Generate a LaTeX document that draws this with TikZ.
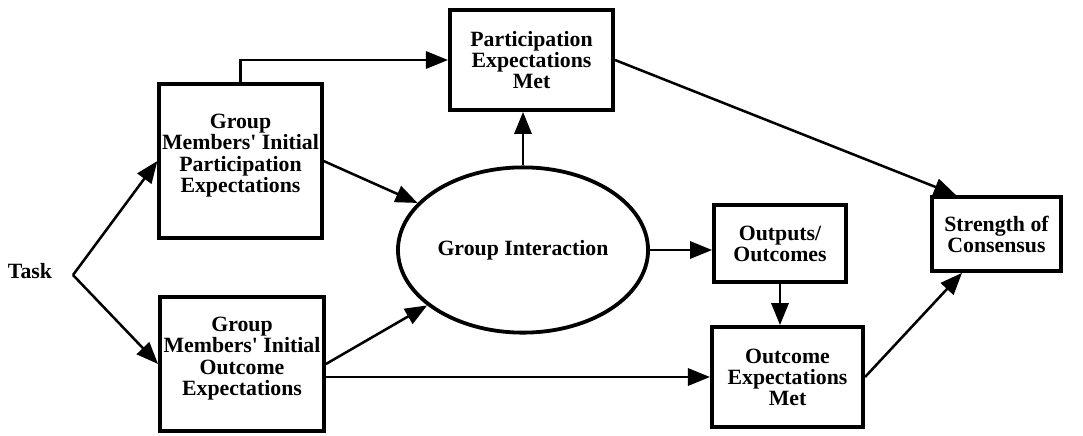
\documentclass[tikz,border=0pt]{standalone}
\usepackage{fontspec}
\setmainfont{Liberation Serif}
\usetikzlibrary{shapes.geometric,arrows.meta,calc}

\begin{document}
\begin{tikzpicture}[x=0.025cm,y=-0.025cm]
    \tikzstyle{box} = [draw, line width=2.7pt, align=center, inner sep=2pt,
        font=\bfseries\fontsize{15.5}{15}\selectfont]
    \tikzstyle{link} = [line width=1.8pt, -{Triangle[length=5.5mm,width=4.3mm]}]

    \useasboundingbox (0,0) rectangle (1083,435);

    % Boxes
    \node[box, minimum width=4.08cm, minimum height=2.5cm] (pem) at (531.5,60)
        {Participation\\Expectations\\Met};
    \node[box, minimum width=4.03cm, minimum height=3.85cm] (gip) at (240.5,161)
        {Group\\Members\textquotesingle{} Initial\\Participation\\Expectations\\[-4pt]\mbox{}};
    \node[box, minimum width=4.1cm, minimum height=3.35cm] (gio) at (242,364)
        {Group\\Members\textquotesingle{} Initial\\Outcome\\Expectations\\[-4pt]\mbox{}};
    \node[box, ellipse, inner sep=0pt, minimum width=6.25cm, minimum height=4.13cm] (gi) at (523,250)
        {Group Interaction};
    \node[box, minimum width=3.3cm, minimum height=1.93cm] (out) at (780,243.5)
        {Outputs/\\Outcomes};
    \node[box, minimum width=3.78cm, minimum height=2.5cm] (oem) at (787.5,377)
        {Outcome\\Expectations\\Met};
    \node[box, minimum width=3.23cm, minimum height=1.85cm] (soc) at (996.5,234)
        {Strength of\\Consensus};

    % Task
    \node[font=\bfseries\fontsize{15.5}{15}\selectfont] (task) at (30,271) {Task};
    \coordinate (fork) at (73,275);

    % Arrows
    \draw[link] (fork) -- (gip.west);
    \draw[link] (fork) -- (gio.west);
    \draw[link] (gip.north) |- (pem.west);
    \draw[link] (gip.east) -- (gi);
    \draw[link] (gio.east) -- (gi);
    \draw[link] (gi.north) -- (gi.north |- pem.south);
    \draw[link] (gi.east) -- (gi.east -| out.west);
    \draw[link] (out.south) -- (out.south |- oem.north);
    \draw[link] (oem.west -| gio.east) -- (oem.west);
    \draw[link] (pem.east) -- ([xshift=0.65cm]soc.north west);
    \draw[link] (oem.east) -- ([xshift=0.8cm]soc.south west);
\end{tikzpicture}
\end{document}
